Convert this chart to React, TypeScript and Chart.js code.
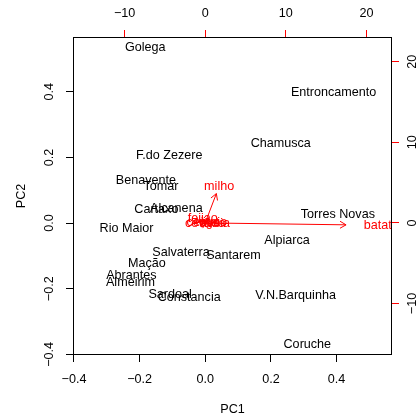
import React, { useEffect, useRef } from "react";
import { Chart, registerables } from "chart.js";

Chart.register(...registerables);

// Observations (scores) on PC1 / PC2
const siteNames = [
  "Golega", "Entroncamento", "Chamusca", "F.do Zezere", "Benavente", "Tomar",
  "Cartaxo", "Alcanena", "Rio Maior", "Torres Novas", "Alpiarca", "Salvaterra",
  "Santarem", "Mação", "Abrantes", "Almeirim", "Sardoal", "Constancia",
  "V.N.Barquinha", "Coruche",
];
const pc1 = [
  -0.183, 0.391, 0.230, -0.110, -0.181, -0.135,
  -0.149, -0.088, -0.240, 0.404, 0.249, -0.074,
  0.086, -0.178, -0.225, -0.228, -0.107, -0.049,
  0.275, 0.311,
];
const pc2 = [
  0.536, 0.397, 0.243, 0.205, 0.129, 0.111,
  0.040, 0.043, -0.018, 0.027, -0.054, -0.089,
  -0.098, -0.124, -0.160, -0.182, -0.217, -0.228,
  -0.220, -0.370,
];

// Variables (loadings) on the top / right scale
const varNames = ["centeio", "cevada", "trigo", "aveia", "feijao", "milho", "batata"];
const load1 = [0.2, 0.0, 0.3, 1.2, -0.3, 1.73, 21.84];
const load2 = [0.1, -0.1, 0.05, -0.1, 0.6, 4.55, -0.3];

const pcTicks = [-0.4, -0.2, 0.0, 0.2, 0.4];
const loadTicks = [-10, 0, 10, 20];
const xTitle = "PC1";
const yTitle = "PC2";

const FONT = '12.6px "Liberation Sans", Arial, Helvetica, sans-serif';

function fmtPc(v: number) {
  const s = Math.abs(v).toFixed(1);
  return v < 0 ? "\u2212" + s : s;
}
function fmtLoad(v: number) {
  const s = String(Math.abs(v));
  return v < 0 ? "\u2212" + s : s;
}

const biplotPlugin = {
  id: "biplotPlugin",
  afterDatasetsDraw(chart: any) {
    const { ctx, chartArea: a, scales } = chart;
    ctx.save();
    ctx.beginPath();
    ctx.rect(a.left, a.top, a.right - a.left, a.bottom - a.top);
    ctx.clip();
    ctx.font = FONT;
    ctx.textAlign = "center";
    ctx.textBaseline = "middle";

    // observation labels
    const m0 = chart.getDatasetMeta(0);
    ctx.fillStyle = "#000000";
    m0.data.forEach((el: any, i: number) => {
      ctx.fillText(siteNames[i], el.x, el.y);
    });

    // variable labels
    const m1 = chart.getDatasetMeta(1);
    ctx.fillStyle = "#FF0000";
    m1.data.forEach((el: any, i: number) => {
      ctx.fillText(varNames[i], el.x, el.y);
    });

    // arrows to 0.8 * loading
    const x2 = scales.x2;
    const y2 = scales.y2;
    const ox = x2.getPixelForValue(0);
    const oy = y2.getPixelForValue(0);
    ctx.strokeStyle = "#FF0000";
    ctx.lineWidth = 1;
    const head = 7;
    for (let i = 0; i < varNames.length; i++) {
      const tx = x2.getPixelForValue(load1[i] * 0.8);
      const ty = y2.getPixelForValue(load2[i] * 0.8);
      const dx = tx - ox;
      const dy = ty - oy;
      const len = Math.hypot(dx, dy);
      if (len < 0.5) continue;
      const ang = Math.atan2(dy, dx);
      ctx.beginPath();
      ctx.moveTo(ox, oy);
      ctx.lineTo(tx, ty);
      ctx.moveTo(tx - head * Math.cos(ang - Math.PI / 6), ty - head * Math.sin(ang - Math.PI / 6));
      ctx.lineTo(tx, ty);
      ctx.lineTo(tx - head * Math.cos(ang + Math.PI / 6), ty - head * Math.sin(ang + Math.PI / 6));
      ctx.stroke();
    }
    ctx.restore();
  },
  afterDraw(chart: any) {
    const { ctx, chartArea: a, scales } = chart;
    ctx.save();
    ctx.font = FONT;
    ctx.fillStyle = "#000000";
    ctx.textAlign = "center";
    ctx.textBaseline = "middle";

    // bottom ticks
    scales.x.ticks.forEach((t: any) => {
      ctx.fillText(fmtPc(t.value), scales.x.getPixelForValue(t.value), 380);
    });
    // top ticks
    scales.x2.ticks.forEach((t: any) => {
      ctx.fillText(fmtLoad(t.value), scales.x2.getPixelForValue(t.value), 14);
    });
    // left ticks (rotated)
    scales.y.ticks.forEach((t: any) => {
      const py = scales.y.getPixelForValue(t.value);
      ctx.save();
      ctx.translate(50, py);
      ctx.rotate(-Math.PI / 2);
      ctx.fillText(fmtPc(t.value), 0, 0);
      ctx.restore();
    });
    // right ticks (rotated)
    scales.y2.ticks.forEach((t: any) => {
      const py = scales.y2.getPixelForValue(t.value);
      ctx.save();
      ctx.translate(413, py);
      ctx.rotate(-Math.PI / 2);
      ctx.fillText(fmtLoad(t.value), 0, 0);
      ctx.restore();
    });
    // axis titles
    ctx.fillText(xTitle, (a.left + a.right) / 2, 410);
    ctx.save();
    ctx.translate(22, (a.top + a.bottom) / 2);
    ctx.rotate(-Math.PI / 2);
    ctx.fillText(yTitle, 0, 0);
    ctx.restore();

    // box
    ctx.strokeStyle = "#000000";
    ctx.lineWidth = 1;
    ctx.strokeRect(Math.round(a.left) + 0.5, Math.round(a.top) + 0.5,
      Math.round(a.right - a.left) - 1, Math.round(a.bottom - a.top) - 1);
    ctx.restore();
  },
};

function setTicks(values: number[]) {
  return (s: any) => {
    s.ticks = values.map((v) => ({ value: v }));
  };
}

export default function App() {
  const ref = useRef<HTMLCanvasElement | null>(null);

  useEffect(() => {
    document.body.style.margin = "0";
    const canvas = ref.current;
    if (!canvas) return;
    const chart = new Chart(canvas, {
      type: "scatter",
      data: {
        datasets: [
          {
            data: pc1.map((x, i) => ({ x, y: pc2[i] })),
            xAxisID: "x",
            yAxisID: "y",
            pointRadius: 0,
            pointHoverRadius: 0,
          },
          {
            data: load1.map((x, i) => ({ x, y: load2[i] })),
            xAxisID: "x2",
            yAxisID: "y2",
            pointRadius: 0,
            pointHoverRadius: 0,
          },
        ],
      },
      options: {
        animation: false,
        responsive: false,
        events: [],
        layout: { padding: 0 },
        plugins: {
          legend: { display: false },
          tooltip: { enabled: false },
        },
        scales: {
          x: {
            type: "linear",
            position: "bottom",
            min: -0.403,
            max: 0.569,
            afterBuildTicks: setTicks(pcTicks),
            afterFit: (s: any) => { s.height = 65; },
            ticks: { display: false },
            grid: { drawOnChartArea: false, drawTicks: true, tickLength: 7, color: "#000000", lineWidth: 1 },
            border: { display: false },
          },
          y: {
            type: "linear",
            position: "left",
            min: -0.402,
            max: 0.567,
            afterBuildTicks: setTicks(pcTicks),
            afterFit: (s: any) => { s.width = 73; },
            ticks: { display: false },
            grid: { drawOnChartArea: false, drawTicks: true, tickLength: 7, color: "#000000", lineWidth: 1 },
            border: { display: false },
          },
          x2: {
            type: "linear",
            position: "top",
            min: -16.4,
            max: 23.17,
            afterBuildTicks: setTicks(loadTicks),
            afterFit: (s: any) => { s.height = 37; },
            ticks: { display: false },
            grid: { drawOnChartArea: false, drawTicks: true, tickLength: 7, color: "#FF0000", lineWidth: 1 },
            border: { display: false },
          },
          y2: {
            type: "linear",
            position: "right",
            min: -16.4,
            max: 23.08,
            afterBuildTicks: setTicks(loadTicks),
            afterFit: (s: any) => { s.width = 28; },
            ticks: { display: false },
            grid: { drawOnChartArea: false, drawTicks: true, tickLength: 7, color: "#FF0000", lineWidth: 1 },
            border: { display: false },
          },
        },
      },
      plugins: [biplotPlugin],
    });
    return () => chart.destroy();
  }, []);

  return (
    <div style={{ position: "absolute", left: 0, top: 0, width: 420, height: 420, background: "#ffffff" }}>
      <canvas ref={ref} width={420} height={420} style={{ display: "block" }} />
    </div>
  );
}
